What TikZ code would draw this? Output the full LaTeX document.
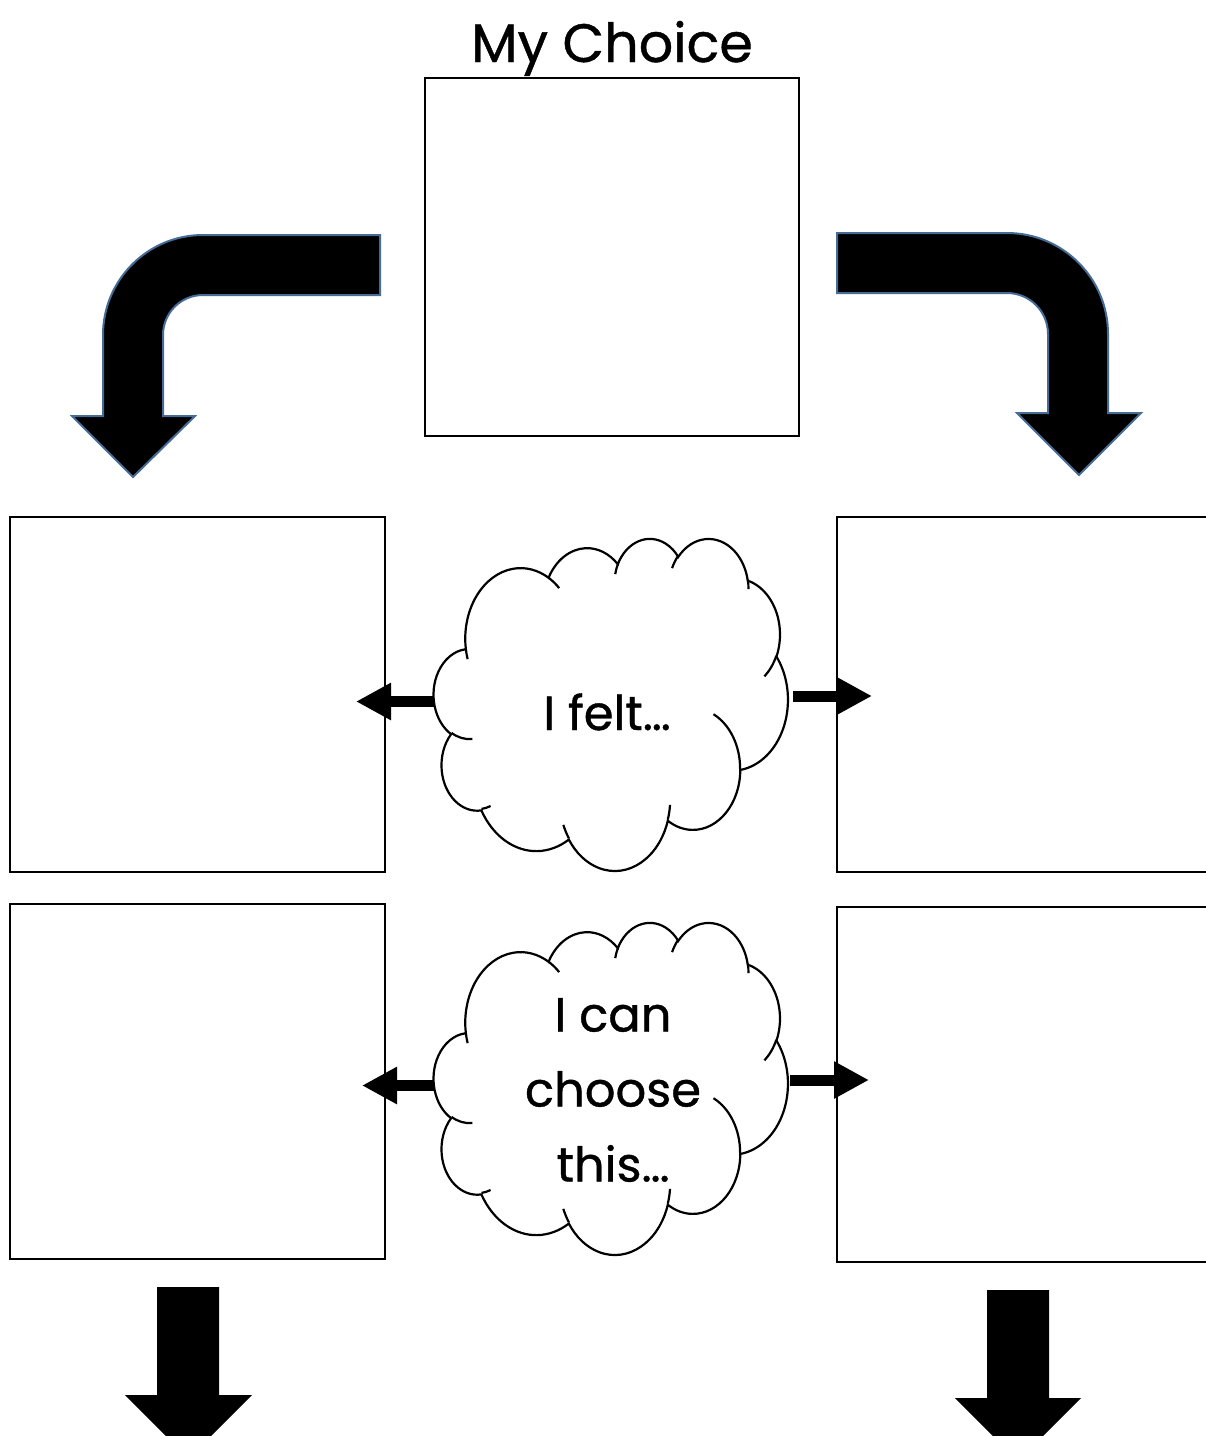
\documentclass[tikz,border=0pt]{standalone}
\usepackage{fontspec}
\setmainfont{Poppins}[FakeBold=0.8]
\usetikzlibrary{arrows.meta}
\definecolor{arrowedge}{RGB}{70,108,150}
\newcommand\cldarc[4]{%
  \pgfextra{%
    \pgfmathparse{atan2(#1*sin(#3),#2*cos(#3))}\xdef\cldA{\pgfmathresult}%
    \pgfmathparse{atan2(#1*sin(#3+#4),#2*cos(#3+#4))}\xdef\cldB{\pgfmathresult}%
    \pgfmathparse{Mod(\cldB-\cldA,360)}\xdef\cldD{\pgfmathresult}%
  }
  arc[start angle=\cldA, delta angle=\cldD, x radius=#1, y radius=#2]
}
\newcommand\cloudshape{%
  \filldraw[cloudline] (39.00,143.70)
    \cldarc{67.53}{91.90}{-190.4875}{123.7805}
    \cldarc{53.33}{72.67}{-144.1024}{89.9452}
    \cldarc{43.65}{59.45}{-145.8079}{99.7230}
    \cldarc{48.57}{65.95}{-130.9861}{117.2417}
    \cldarc{53.33}{72.73}{-78.7089}{109.0269}
    \cldarc{67.75}{92.20}{-46.2673}{130.2690}
    \cldarc{57.85}{78.67}{0.6250}{114.0333}
    \cldarc{67.52}{92.15}{22.4516}{115.1726}
    \cldarc{77.20}{105.43}{66.2426}{75.7110}
    \cldarc{43.60}{59.18}{-274.9421}{146.7356}
    \cldarc{43.45}{59.45}{-246.8285}{152.5189}
    -- cycle;
  \draw[cloudinner]
    (46.93,261.77) \cldarc{43.45}{59.45}{86.7420}{26.4295}
    (69.28,348.99) \cldarc{43.60}{59.18}{73.6105}{11.4475}
    (164.78,390.90) \cldarc{67.52}{92.15}{137.6242}{14.0811}
    (288.27,347.51) \cldarc{67.52}{92.15}{6.4533}{15.9984}
    (341.29,229.54) \cldarc{57.85}{78.67}{-70.2924}{70.9174}
    (417.98,153.54) \cldarc{53.33}{72.73}{30.3180}{27.7515}
    (383.24,54.26) \cldarc{48.57}{65.95}{-13.7443}{14.8589}
    (290.78,39.52) \cldarc{48.57}{65.95}{-149.1815}{18.1954}
    (221.41,47.20) \cldarc{43.65}{59.45}{-163.4943}{17.6864}
    (140.00,51.92) \cldarc{67.53}{91.90}{-66.7070}{12.3194}
    (41.27,157.89) \cldarc{67.53}{91.90}{157.6544}{11.8582};
}
\tikzset{
  box/.style={draw=black, line width=2.4pt, fill=white, inner sep=0pt},
  cloudframe/.style={draw=none, inner sep=0pt, minimum width=354pt, minimum height=332pt},
  cloudline/.style={draw=black, fill=white, line width=2.2pt},
  cloudinner/.style={draw=black, line width=2.2pt},
  bentarrow/.style={fill=black, draw=arrowedge, line width=2pt, line join=miter},
  blockarrow/.style={draw=black, line width=11pt, -{Triangle[length=35pt,width=35pt]}},
  downarrow/.style={fill=black, draw=none},
  titletext/.style={font=\fontsize{54}{60}\selectfont},
  cloudtext/.style={font=\fontsize{48}{75}\selectfont, align=center, inner sep=0pt},
}
\begin{document}
\begin{tikzpicture}[x=1pt, y=-1pt]
\fill[white] (0,0) rectangle (1206,1436);
\useasboundingbox (0,0) rectangle (1206,1436);

% title and top box
\node[titletext, anchor=base] (title) at (612,62) {My Choice};
\node[box, minimum width=374pt, minimum height=358pt] (top) at (612,257) {};

% bent arrows
\draw[bentarrow] (380,235) -- (203,235) arc[start angle=270, end angle=180, radius=100]
  -- (103,416) -- (72,416) -- (133,477) -- (195,416) -- (163,416) -- (163,335)
  arc[start angle=180, end angle=270, radius=40] -- (380,295) -- cycle;
\draw[bentarrow] (837,233) -- (1007,233) arc[start angle=270, end angle=360, radius=101]
  -- (1108,413) -- (1141,413) -- (1079,475) -- (1017,413) -- (1048,413) -- (1048,334)
  arc[start angle=360, end angle=270, radius=41] -- (837,293) -- cycle;

% boxes
\node[box, minimum width=375pt, minimum height=355pt] (l1) at (197.5,694.5) {};
\node[box, minimum width=375pt, minimum height=355pt] (r1) at (1024.5,694.5) {};
\node[box, minimum width=375pt, minimum height=355pt] (l2) at (197.5,1081.5) {};
\node[box, minimum width=375pt, minimum height=355pt] (r2) at (1024.5,1084.5) {};

% small arrows
\coordinate (a1s) at (440,701.5); \coordinate (a1e) at (356,701.5);
\coordinate (a2s) at (793,696);   \coordinate (a2e) at (872,696);
\coordinate (a3s) at (446,1085.5); \coordinate (a3e) at (362,1085.5);
\coordinate (a4s) at (790,1080);  \coordinate (a4e) at (869,1080);
\draw[blockarrow] (a1s) -- (a1e);
\draw[blockarrow] (a2s) -- (a2e);
\draw[blockarrow] (a3s) -- (a3e);
\draw[blockarrow] (a4s) -- (a4e);

% clouds
\node[cloudframe] (c1) at (611,704) {};
\node[cloudframe] (c2) at (611,1088) {};
\begin{scope}[shift={(c1.north west)}, x=0.81944pt, y=-0.76852pt]
\cloudshape
\end{scope}
\begin{scope}[shift={(c2.north west)}, x=0.81944pt, y=-0.76852pt]
\cloudshape
\end{scope}
\node[cloudtext, anchor=base] (t1) at (607,730) {I felt…};
\node[cloudtext] (t2) at (613,1090) {I can\\choose\\this…};

% bottom arrows
\draw[downarrow] (157,1287) -- (219,1287) -- (219,1395) -- (252,1395) -- (188.5,1458.5)
  -- (125,1395) -- (157,1395) -- cycle;
\draw[downarrow] (987,1290) -- (1049,1290) -- (1049,1398) -- (1081,1398) -- (1018,1461)
  -- (955,1398) -- (987,1398) -- cycle;
\end{tikzpicture}
\end{document}
